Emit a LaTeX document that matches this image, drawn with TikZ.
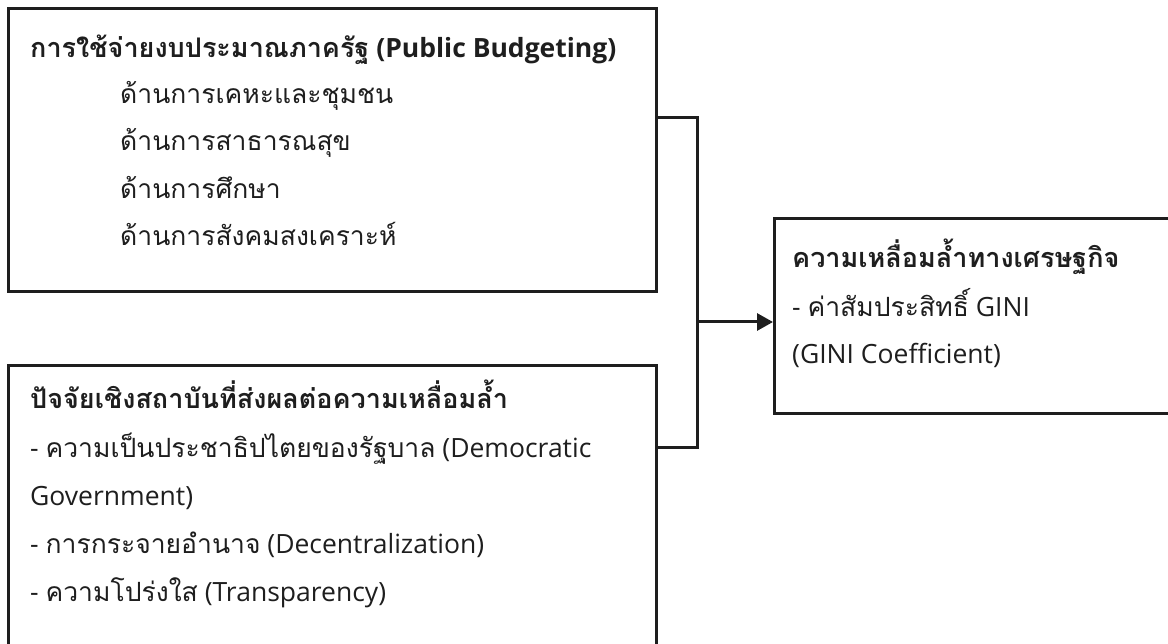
\documentclass[tikz,border=0pt]{standalone}
\usepackage{fontspec}
\setmainfont{Open Sans}
\newfontfamily\thaif[Script=Thai]{Loma}
\newcommand{\thb}[1]{{\fontsize{27}{30}\selectfont\thaif #1}}
\usetikzlibrary{arrows.meta}
\definecolor{ink}{HTML}{1E1E1E}
\tikzset{
  box/.style={draw=ink, line width=3pt, rectangle, inner sep=0pt, anchor=north west},
  txt/.style={anchor=base west, inner sep=0pt, text=ink, font=\fontsize{26.5}{30}\selectfont},
  btxt/.style={txt, font=\fontsize{26.5}{30}\selectfont\bfseries},
  conn/.style={draw=ink, line width=3pt},
  arr/.style={conn, -{Triangle[length=16pt,width=17pt]}}
}
\begin{document}
\begin{tikzpicture}[x=1pt,y=-1pt]
\useasboundingbox (0,0) rectangle (1168,644);
\clip (0,0) rectangle (1168,644);
\node[box, minimum width=648pt, minimum height=283pt] (A) at (7,7) {};
\node[box, minimum width=648pt, minimum height=330pt] (B) at (7,364) {};
\node[box, minimum width=430pt, minimum height=195pt] (C) at (773,217) {};
% Box A text
\node[btxt] (a0) at (30,58) {\thb{การใช้จ่ายงบประมาณภาครัฐ} (Public Budgeting)};
\node[txt] (a1) at (120,104) {\thaif ด้านการเคหะและชุมชน};
\node[txt] (a2) at (120,151) {\thaif ด้านการสาธารณสุข};
\node[txt] (a3) at (120,199) {\thaif ด้านการศึกษา};
\node[txt] (a4) at (120,246) {\thaif ด้านการสังคมสงเคราะห์};
% Box B text
\node[btxt] (b0) at (30,409) {\thb{ปัจจัยเชิงสถาบันที่ส่งผลต่อความเหลื่อมล้ำ}};
\node[txt] (b1) at (30,457) {- {\thaif ความเป็นประชาธิปไตยของรัฐบาล} (Democratic};
\node[txt] (b2) at (30,505) {Government)};
\node[txt] (b3) at (30,553) {- {\thaif การกระจายอำนาจ} (Decentralization)};
\node[txt] (b4) at (30,601) {- {\thaif ความโปร่งใส} (Transparency)};
% Box C text
\node[btxt] (c0) at (792,268) {\thb{ความเหลื่อมล้ำทางเศรษฐกิจ}};
\node[txt] (c1) at (792,317) {- {\thaif ค่าสัมประสิทธิ์} GINI};
\node[txt] (c2) at (792,364) {(GINI Coefficient)};
% connectors
\coordinate (j1) at (697,118);
\coordinate (j2) at (697,447);
\coordinate (jm) at (697,322);
\draw[conn] (A.east |- j1) -- (j1) -- (j2) -- (B.east |- j2);
\draw[arr] (jm) -- (C.west |- jm);
\end{tikzpicture}
\end{document}
